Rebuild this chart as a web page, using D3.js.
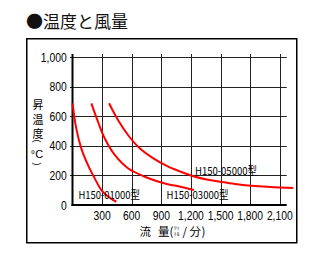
<!DOCTYPE html>
<html><head><meta charset="utf-8">
<script src="https://cdn.jsdelivr.net/npm/d3@7"></script>
<style>html,body{margin:0;padding:0;background:#fff;}svg{display:block;}</style>
</head><body>
<script>
const title = "●温度と風量";
const xTicks = [300, 600, 900, 1200, 1500, 1800, 2100];
const yTicks = [0, 200, 400, 600, 800, 1000];
const models = ["H150-01000型", "H150-03000型", "H150-05000型"];
const flow01000 = [0, 38, 89, 157, 225, 292, 377, 444];
const temp01000 = [687, 518, 383, 270, 180, 101, 49, 22];
const flow03000 = [191, 258, 326, 428, 562, 732, 819, 955, 1090, 1230];
const temp03000 = [687, 563, 451, 338, 248, 191, 169, 142, 124, 102];
const flow05000 = [370, 461, 562, 681, 819, 955, 1090, 1224, 1360, 1495, 1647, 1850, 2052, 2238];
const temp05000 = [687, 574, 473, 383, 315, 264, 226, 194, 172, 157, 142, 128, 120, 115];
const labelPos = [[78.5, 198.5], [166.5, 198.5], [195, 175]];
const labelW = [61.5, 62, 62];

const W = 320, H = 265;
const svg = d3.select("body").append("svg").attr("width", W).attr("height", H);
const x = d3.scaleLinear().domain([0, 2170]).range([72.5, 286.7]);
const y = d3.scaleLinear().domain([0, 1000]).range([205, 57]);
const num = d3.format(",");
const latin = "'Liberation Sans', Arial, sans-serif";
const cjk = "'Noto Sans CJK JP', sans-serif";

// title
svg.append("text").attr("x", 26).attr("y", 28).attr("font-family", cjk)
  .attr("font-size", 17).attr("fill", "#111").text(title);

// outer box
svg.append("rect").attr("x", 26.75).attr("y", 38.75).attr("width", 270).attr("height", 204)
  .attr("fill", "none").attr("stroke", "#000").attr("stroke-width", 1.5);

// grid
const g = svg.append("g");
g.selectAll(".hg").data(yTicks.filter(d => d > 0)).join("line")
  .attr("x1", 70).attr("x2", 286.7).attr("y1", d => Math.round(y(d)) + 0.5).attr("y2", d => Math.round(y(d)) + 0.5)
  .attr("stroke", "#222").attr("stroke-width", 1);
g.selectAll(".vg").data(xTicks).join("line")
  .attr("x1", d => Math.round(x(d)) + 0.5).attr("x2", d => Math.round(x(d)) + 0.5).attr("y1", 54).attr("y2", 205)
  .attr("stroke", "#222").attr("stroke-width", 1);
g.append("line").attr("x1", 72.5).attr("x2", 72.5).attr("y1", 54).attr("y2", 206).attr("stroke", "#000").attr("stroke-width", 2);
g.append("line").attr("x1", 71.5).attr("x2", 286.7).attr("y1", 205).attr("y2", 205).attr("stroke", "#000").attr("stroke-width", 2);

// tick labels
const yl = svg.selectAll(".yl").data(yTicks).join("text")
  .attr("x", 66.7).attr("y", d => y(d) + 4.5).attr("text-anchor", "end")
  .attr("font-family", latin).attr("font-size", 12).attr("fill", "#000").text(d => num(d));
const xl = svg.selectAll(".xl").data(xTicks).join("text")
  .attr("x", d => x(d)).attr("y", 220).attr("text-anchor", "middle")
  .attr("font-family", latin).attr("font-size", 12).attr("fill", "#000").text(d => num(d));
[yl, xl].forEach(sel => sel.each(function() {
  const L = this.getComputedTextLength();
  d3.select(this).attr("textLength", L * 0.86).attr("lengthAdjust", "spacingAndGlyphs");
}));

// curves
const series = [[flow01000, temp01000], [flow03000, temp03000], [flow05000, temp05000]];
const line = d3.line().x(d => x(d[0])).y(d => y(d[1])).curve(d3.curveCatmullRom.alpha(0.5));
svg.selectAll(".curve").data(series).join("path")
  .attr("d", s => line(s[0].map((v, i) => [v, s[1][i]])))
  .attr("fill", "none").attr("stroke", "#ff0000").attr("stroke-width", 2);

// model labels
svg.selectAll(".ml").data(models).join("text")
  .attr("x", (d, i) => labelPos[i][0]).attr("y", (d, i) => labelPos[i][1])
  .attr("font-family", cjk).attr("font-size", 11).attr("fill", "#000")
  .attr("textLength", (d, i) => labelW[i]).attr("lengthAdjust", "spacingAndGlyphs").text(d => d);

// y axis title (vertical)
[["昇", 108.5], ["温", 123.5], ["度", 137.5]].forEach(([t, yy]) => {
  svg.append("text").attr("x", 38).attr("y", yy).attr("text-anchor", "middle")
    .attr("font-family", cjk).attr("font-size", 11).attr("fill", "#000").text(t);
});
svg.append("text").attr("transform", "translate(37,141) rotate(90)")
  .attr("text-anchor", "middle").attr("dominant-baseline", "central")
  .attr("font-family", latin).attr("font-size", 9).attr("fill", "#000").text("(");
svg.append("text").attr("x", 37).attr("y", 158).attr("text-anchor", "middle")
  .attr("font-family", latin).attr("font-size", 11).attr("fill", "#000").text("°C");
svg.append("text").attr("transform", "translate(37,164) rotate(90)")
  .attr("text-anchor", "middle").attr("dominant-baseline", "central")
  .attr("font-family", latin).attr("font-size", 9).attr("fill", "#000").text(")");

// x axis title
const xt = [["流", 139.5], ["量", 158], ["(", 169.5], ["/", 182.5], ["分", 189.5], [")", 201.5]];
xt.forEach(([t, xx]) => {
  svg.append("text").attr("x", xx).attr("y", 236).attr("font-family", cjk)
    .attr("font-size", 11.5).attr("fill", "#000").text(t);
});
svg.append("text").attr("x", 174).attr("y", 229.5).attr("font-family", cjk).attr("font-size", 5.5).attr("fill", "#000").text("ﾘｯ");
svg.append("text").attr("x", 174).attr("y", 235.5).attr("font-family", cjk).attr("font-size", 5.5).attr("fill", "#000").text("ﾄﾙ");
</script>
</body></html>
